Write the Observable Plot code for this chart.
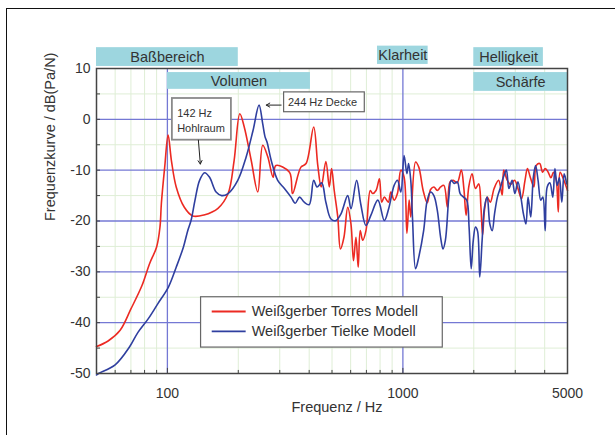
<!DOCTYPE html>
<html>
<head>
<meta charset="utf-8">
<script src="https://cdn.jsdelivr.net/npm/d3@7"></script>
<script src="https://cdn.jsdelivr.net/npm/@observablehq/plot@0.6"></script>
<style>
  html, body { margin: 0; padding: 0; background: #fff; }
  #wrap { position: relative; width: 615px; height: 435px; overflow: hidden; }
  #border { position: absolute; left: 6px; top: 8px; width: 700px; height: 600px;
            border-left: 1.5px solid #111; border-top: 1.5px solid #111; pointer-events: none; }
  svg { font-family: "Liberation Sans", Arial, sans-serif; }
</style>
</head>
<body>
<div id="wrap"><div id="border"></div></div>
<script>
// ---- Data ----
const torresFreq = [50,56,63,70,78,84,90,93,94.3,97.4,100.7,104,109,118,128,143,164,181,192,203,212,227,242,254,267,281,289,330,340,369,388,418,435,450,471,487,498,511,529,543,562,583,602,617,632,646,659,675,697,727,744,769,795,813,834,867,889,918,948,980,1012,1040,1063,1080,1132,1168,1219,1269,1311,1354,1400,1446,1493,1545,1585,1637,1700,1770,1815,1856,1904,1967,2033,2100,2145,2180,2220,2280,2350,2440,2550,2640,2680,2770,2870,2980,3080,3190,3300,3380,3480,3600,3680,3810,3920,4020,4140,4250,4360,4480,4570,4650,4800,5000];
const torresDb   = [-44.7,-43.6,-41.5,-37.3,-32.7,-28.4,-25.1,-21.2,-16.5,-9.4,-3.1,-8.1,-13.3,-17.3,-19.0,-18.8,-17.5,-14.6,-8.1,1.1,-1.5,-8.1,-14.3,-5.1,-7.4,-11.4,-9.1,-10.4,-14.6,-9.4,-8.7,-1.5,-9.0,-13.3,-8.3,-13.3,-9.7,-14.0,-19.2,-25.5,-23.2,-17.3,-20.6,-27.8,-23.2,-29.1,-21.9,-23.8,-21.9,-14.0,-14.6,-14.0,-11.7,-16.3,-15.3,-16.3,-14.3,-15.9,-14.6,-10.0,-11.4,-22.4,-15.9,-19.2,-8.4,-9.4,-14.0,-16.4,-13.8,-13.3,-14.0,-13.3,-13.0,-17.3,-12.3,-12.0,-12.5,-10.0,-13.6,-18.9,-13.3,-10.7,-13.6,-12.7,-17.3,-22.8,-17.9,-15.3,-16.3,-13.6,-12.0,-14.9,-10.0,-11.9,-12.8,-12.0,-13.6,-15.6,-12.0,-9.7,-11.5,-13.3,-9.1,-8.7,-10.4,-9.7,-10.4,-11.5,-10.4,-12.0,-18.2,-10.4,-11.7,-14.0];

const tielkeFreq = [50,51,60,69,75,83,91,101,109,117,122,126,131,137,144,151,161,170,181,199,216,231,245,254,260,265,276,294,314,335,349,364,381,400,418,432,452,471,495,520,546,583,602,636,662,697,731,783,834,870,918,948,980,1012,1040,1057,1080,1098,1132,1168,1225,1269,1311,1354,1400,1446,1480,1515,1567,1604,1650,1703,1750,1808,1867,1910,1950,1990,2033,2075,2120,2170,2220,2280,2340,2395,2450,2520,2600,2670,2750,2820,2910,2990,3080,3170,3250,3330,3400,3490,3580,3660,3750,3850,3930,4020,4100,4210,4330,4420,4520,4620,4730,4840,4960];
const tielkeDb   = [-50.3,-50,-48.3,-44.8,-41.9,-39.2,-36.3,-33.0,-29.1,-25.1,-21.9,-19.9,-15.9,-12.0,-10.5,-11.4,-14.3,-15.0,-14.6,-12.0,-7.4,-2.2,2.8,-0.9,-3.5,-4.5,-8.1,-12.0,-13.6,-15.3,-16.5,-15.3,-16.3,-16.8,-12.0,-13.3,-12.5,-16.3,-19.6,-19.9,-18.6,-15.0,-17.6,-12.0,-16.6,-20.9,-18.9,-15.9,-19.9,-17.6,-13.0,-12.0,-14.3,-7.1,-10.7,-8.7,-12.0,-19.2,-29.4,-27.1,-21.9,-15.9,-14.3,-15.0,-17.9,-23.2,-25.5,-23.8,-15.3,-12.0,-12.6,-12.3,-14.6,-15.3,-15.9,-21.2,-29.4,-23.8,-21.2,-22.0,-31.0,-23.8,-17.3,-15.3,-20.6,-21.9,-18.6,-15.3,-13.3,-11.4,-10.0,-13.6,-12.0,-14.6,-12.3,-15.3,-18.6,-20.6,-15.3,-19.2,-11.4,-9.1,-12.0,-15.9,-15.3,-21.9,-13.3,-12.5,-15.3,-9.7,-13.0,-11.5,-16.3,-10.7,-12.7];

const seriesNames = ["Weißgerber Torres Modell", "Weißgerber Tielke Modell"];
const seriesColors = ["#ec2a22", "#2f3f9f"];

const bandNames = ["Baßbereich", "Volumen", "Klarheit", "Helligkeit", "Schärfe"];
const bandLo = [50, 100, 780, 2000, 2000];
const bandHi = [200, 405, 1280, 3950, 5000];

const yTicks = [-50, -40, -30, -20, -10, 0, 10];
const xTickLabels = [100, 1000, 5000];
const minorFreq = [60,70,80,90,200,300,400,500,600,700,800,900,2000,3000,4000];
const halfDb = [-45,-35,-25,-15,-5,5];

// ---- Layout (annotation placement) ----
const bandRow = [ [10.4, 14.1], [5.9, 9.2], [10.8, 14.4], [10.4, 14.1], [5.5, 9.2] ];
const bands = bandNames.map((name, i) => ({
  name, lo: bandLo[i], hi: bandHi[i], y1: bandRow[i][0], y2: bandRow[i][1],
  xm: Math.sqrt(bandLo[i] * bandHi[i]), ym: (bandRow[i][0] + bandRow[i][1]) / 2
}));

const torres = torresFreq.map((f, i) => ({f, db: torresDb[i]}));
const tielke = tielkeFreq.map((f, i) => ({f, db: tielkeDb[i]}));

const legendRows = seriesNames.map((s, i) => ({s, c: seriesColors[i], y: [-37.8, -41.7][i]}));

const gridBlue = "#7478d4";
const gridGreen = "#dfeed6";

const chart = Plot.plot({
  width: 615,
  height: 435,
  marginLeft: 96,
  marginRight: 48,
  marginTop: 68,
  marginBottom: 62,
  style: {fontFamily: "'Liberation Sans', Arial, sans-serif", color: "#333", background: "#fff"},
  x: {type: "log", domain: [50, 5000], axis: null},
  y: {domain: [-50, 10], axis: null},
  marks: [
    // light grid
    Plot.ruleX(minorFreq, {stroke: gridGreen, strokeWidth: 1}),
    Plot.ruleY(halfDb, {stroke: gridGreen, strokeWidth: 1}),
    // blue grid
    Plot.ruleY([-40, -30, -20, -10, 0], {stroke: gridBlue, strokeWidth: 1.3}),
    Plot.ruleX([100, 1000], {stroke: gridBlue, strokeWidth: 1.3}),
    // inward ticks
    Plot.ruleY([...halfDb, ...yTicks], {x1: 50, x2: 52, stroke: "#444"}),
    Plot.ruleX(minorFreq, {y1: -50, y2: -49.4, stroke: "#444"}),
    Plot.ruleX([100, 1000, 5000], {y1: -50, y2: -49, stroke: "#444"}),
    // bands
    Plot.rect(bands, {x1: "lo", x2: "hi", y1: "y1", y2: "y2", fill: "#9dd6df"}),
    Plot.text(bands, {x: "xm", y: "ym", text: "name", fontSize: 14.5, fill: "#333"}),
    // curves
    Plot.line(torres, {x: "f", y: "db", stroke: seriesColors[0], strokeWidth: 1.6, curve: "catmull-rom"}),
    Plot.line(tielke, {x: "f", y: "db", stroke: seriesColors[1], strokeWidth: 1.6, curve: "catmull-rom"}),
    // annotations
    Plot.rect([{x1: 105, x2: 187, y1: -4.1, y2: 4.1}], {x1: "x1", x2: "x2", y1: "y1", y2: "y2", fill: "white", stroke: "#8a8a8a", strokeWidth: 1.8}),
    Plot.text(["142 Hz\nHohlraum"], {x: 110, y: 0, text: d => d, textAnchor: "start", fontSize: 11, lineHeight: 1.35, fill: "#333"}),
    Plot.arrow([{x1: 135.4, y1: -4.1, x2: 138, y2: -8.8}], {x1: "x1", y1: "y1", x2: "x2", y2: "y2", stroke: "#222", strokeWidth: 1, headLength: 6}),
    Plot.rect([{x1: 313, x2: 689, y1: 1.4, y2: 5.3}], {x1: "x1", x2: "x2", y1: "y1", y2: "y2", fill: "white", stroke: "#666", strokeWidth: 1.2}),
    Plot.text(["244 Hz Decke"], {x: 325, y: 3.35, textAnchor: "start", fontSize: 11, fill: "#333"}),
    Plot.arrow([{x1: 304, y1: 2.8, x2: 263, y2: 2.8}], {x1: "x1", y1: "y1", x2: "x2", y2: "y2", stroke: "#222", strokeWidth: 1, headLength: 6}),
    // legend
    Plot.rect([{x1: 139, x2: 1477, y1: -44.9, y2: -35}], {x1: "x1", x2: "x2", y1: "y1", y2: "y2", fill: "white", stroke: "#666", strokeWidth: 1.2}),
    Plot.ruleY(legendRows, {y: "y", x1: 155, x2: 216, stroke: "c", strokeWidth: 1.8}),
    Plot.text(legendRows, {x: 228, y: "y", text: "s", textAnchor: "start", fontSize: 14.5, fill: "#333"}),
    // frame + axes
    Plot.frame({stroke: "#444", strokeWidth: 1.5}),
    Plot.axisY(yTicks, {tickSize: 0, tickPadding: 6, fontSize: 14, label: null, tickFormat: d => String(d)}),
    Plot.text(xTickLabels, {x: d => d, frameAnchor: "bottom", dy: 24, fontSize: 14, fill: "#333", text: d => String(d)}),
    Plot.text(["Frequenz / Hz"], {frameAnchor: "bottom", dy: 38, dx: 5, fontSize: 14.5, fill: "#333"}),
    Plot.text(["Frequenzkurve / dB(Pa/N)"], {frameAnchor: "left", rotate: -90, dx: -46, fontSize: 14.5, fill: "#333"})
  ]
});
document.getElementById("wrap").prepend(chart);
</script>
</body>
</html>
